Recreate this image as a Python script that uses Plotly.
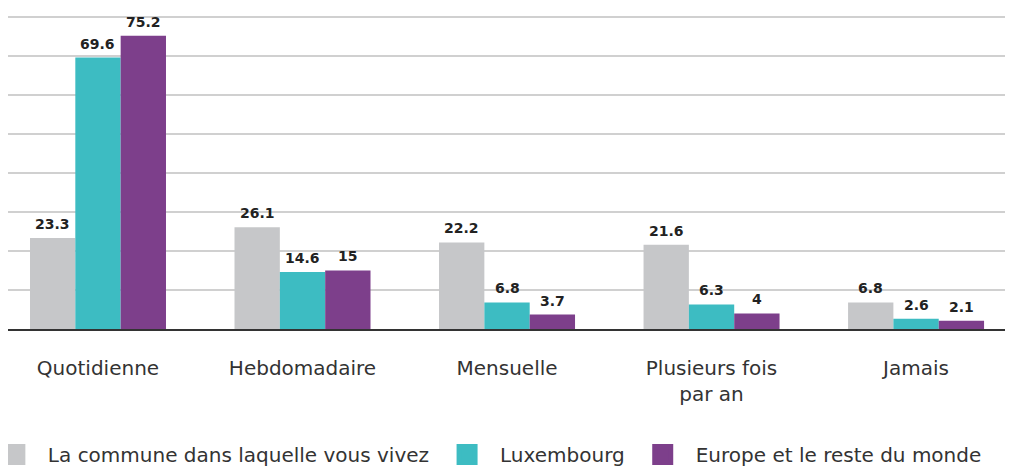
import plotly.graph_objects as go

categories = ["Quotidienne", "Hebdomadaire", "Mensuelle", "Plusieurs fois<br>par an", "Jamais"]
series_names = ["La commune dans laquelle vous vivez", "Luxembourg", "Europe et le reste du monde"]
commune = [23.3, 26.1, 22.2, 21.6, 6.8]
luxembourg = [69.6, 14.6, 6.8, 6.3, 2.6]
europe = [75.2, 15, 3.7, 4, 2.1]
colors = ["#C6C7C9", "#3DBCC2", "#7D3F8B"]

series = [commune, luxembourg, europe]
FONT = "DejaVu Sans"
bargap = 0.335
barw = (1 - bargap) / 3

fig = go.Figure()
for i, (name, vals, col) in enumerate(zip(series_names, series, colors)):
    fig.add_trace(go.Bar(x=list(range(len(categories))), y=vals, name=name,
                         marker=dict(color=col, line=dict(width=0)),
                         showlegend=False, hoverinfo="y"))
    fig.add_trace(go.Scatter(x=[None], y=[None], mode="markers", name=name,
                             marker=dict(symbol="square", size=16, color=col,
                                         line=dict(color=col, width=5))))
    for j, v in enumerate(vals):
        fig.add_annotation(x=j + (i - 1) * barw, y=v, text=f"<b>{v:g}</b>",
                           showarrow=False, yanchor="bottom", yshift=4,
                           font=dict(family=FONT, size=14, color="#222222"))

fig.update_layout(
    width=1005, height=460,
    margin=dict(l=0, r=0, t=7, b=139, autoexpand=False),
    barmode="group", bargap=bargap, bargroupgap=0,
    plot_bgcolor="white", paper_bgcolor="white",
    font=dict(family=FONT, color="#333333"),
    xaxis=dict(tickmode="array", tickvals=list(range(len(categories))), ticktext=categories,
               range=[-0.44, 4.474], showgrid=False, zeroline=False,
               showline=True, linecolor="#333333", linewidth=1.5,
               tickfont=dict(family=FONT, size=20, color="#333333"),
               ticks="", ticklabelstandoff=20),
    yaxis=dict(range=[0, 80.5], dtick=10, showticklabels=False, gridcolor="#D0D0D0",
               gridwidth=1.5, zeroline=False, showline=False),
    legend=dict(orientation="h", x=-0.026, xanchor="left", y=-0.40, yanchor="middle",
                font=dict(family=FONT, size=20, color="#333333"),
                itemwidth=56, tracegroupgap=0),
)

fig.write_html("out.html")
